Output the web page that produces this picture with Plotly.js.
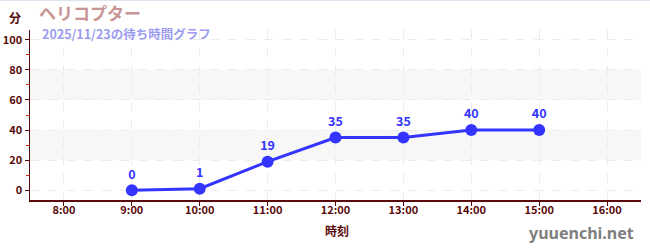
<!DOCTYPE html>
<html>
<head>
<meta charset="utf-8">
<script src="https://cdn.plot.ly/plotly-3.0.1.min.js"></script>
<style>
  html, body { margin: 0; padding: 0; background: #fff; }
  #chart { width: 650px; height: 250px; }
  #topline { position: absolute; left: 0; top: 0; width: 650px; height: 1px; background: #dfe3f0; }
</style>
</head>
<body>
<div id="chart"></div>
<div id="topline"></div>
<script>
// Wait times through the day
const times = ["9:00", "10:00", "11:00", "12:00", "13:00", "14:00", "15:00"];
const waitMinutes = [0, 1, 19, 35, 35, 40, 40];

// Axis ticks
const hourTicks = [8, 9, 10, 11, 12, 13, 14, 15, 16];
const hourTickText = ["8:00", "9:00", "10:00", "11:00", "12:00", "13:00", "14:00", "15:00", "16:00"];
const minuteTicks = [0, 20, 40, 60, 80, 100];

const rideName = "ヘリコプター";
const subtitle = "2025/11/23の待ち時間グラフ";

const toHours = t => { const [h, m] = t.split(":").map(Number); return h + m / 60; };
const xs = times.map(toHours);

const axisColor = "#5a0a0a";
const lineColor = "#3434ff";
const font = "'Noto Sans CJK JP', 'Noto Sans', sans-serif";

const trace = {
  x: xs,
  y: waitMinutes,
  type: "scatter",
  mode: "lines+markers+text",
  text: waitMinutes.map(String),
  textposition: "top center",
  textfont: { family: font, size: 12.5, color: lineColor, weight: "bold" },
  line: { color: lineColor, width: 3 },
  marker: { color: lineColor, size: 12 },
  hoverinfo: "skip",
  cliponaxis: false
};

const layout = {
  width: 650,
  height: 250,
  margin: { l: 30, r: 9, t: 30, b: 50 },
  paper_bgcolor: "#fff",
  plot_bgcolor: "#fff",
  showlegend: false,
  font: { family: font, color: axisColor },
  xaxis: {
    range: [7.5, 16.5],
    tickvals: hourTicks,
    ticktext: hourTickText,
    ticks: "outside",
    ticklen: 4,
    tickcolor: axisColor,
    ticklabelstandoff: -5,
    tickfont: { family: font, size: 11, color: axisColor, weight: "bold" },
    showline: true,
    linecolor: axisColor,
    linewidth: 1.5,
    showgrid: true,
    gridcolor: "#ececec",
    griddash: "dash",
    zeroline: false,
    fixedrange: true
  },
  yaxis: {
    range: [-6.5, 106.5],
    tickvals: minuteTicks,
    ticks: "outside",
    ticklen: 4,
    tickcolor: axisColor,
    tickfont: { family: font, size: 11, color: axisColor, weight: "bold" },
    showline: true,
    linecolor: axisColor,
    linewidth: 1.5,
    showgrid: true,
    gridcolor: "#ececec",
    griddash: "dash",
    zeroline: false,
    fixedrange: true,
    minor: { tickvals: [10, 30, 50, 70, 90], ticks: "outside", ticklen: 3, tickcolor: "#e0201c", showgrid: false }
  },
  shapes: [
    { type: "rect", xref: "paper", yref: "y", x0: 0, x1: 1, y0: 20, y1: 40, fillcolor: "#f7f7f7", line: { width: 0 }, layer: "below" },
    { type: "rect", xref: "paper", yref: "y", x0: 0, x1: 1, y0: 60, y1: 80, fillcolor: "#f7f7f7", line: { width: 0 }, layer: "below" }
  ],
  annotations: [
    { text: "分", xref: "paper", yref: "paper", x: -0.025, y: 1.076, xanchor: "center", yanchor: "middle", showarrow: false,
      font: { family: font, size: 12, color: axisColor, weight: "bold" } },
    { text: rideName, xref: "paper", yref: "paper", x: 0.0115, y: 1.103, xanchor: "left", yanchor: "middle", showarrow: false,
      font: { family: font, size: 17, color: "#c99494", weight: "bold" } },
    { text: subtitle, xref: "paper", yref: "paper", x: 0.0164, y: 0.982, xanchor: "left", yanchor: "middle", showarrow: false,
      font: { family: font, size: 12.5, color: "#9c9cf0", weight: "bold" } },
    { text: "時刻", xref: "paper", yref: "paper", x: 0.502, y: -0.182, xanchor: "center", yanchor: "middle", showarrow: false,
      font: { family: font, size: 12, color: axisColor, weight: "bold" } },
    { text: "yuuenchi.net", xref: "paper", yref: "paper", x: 0.992, y: -0.194, xanchor: "right", yanchor: "middle", showarrow: false,
      font: { family: "'Noto Sans', sans-serif", size: 16, color: "#7f7f7f", weight: "bold" } }
  ]
};

Plotly.newPlot("chart", [trace], layout, { staticPlot: true, displayModeBar: false });
</script>
</body>
</html>
